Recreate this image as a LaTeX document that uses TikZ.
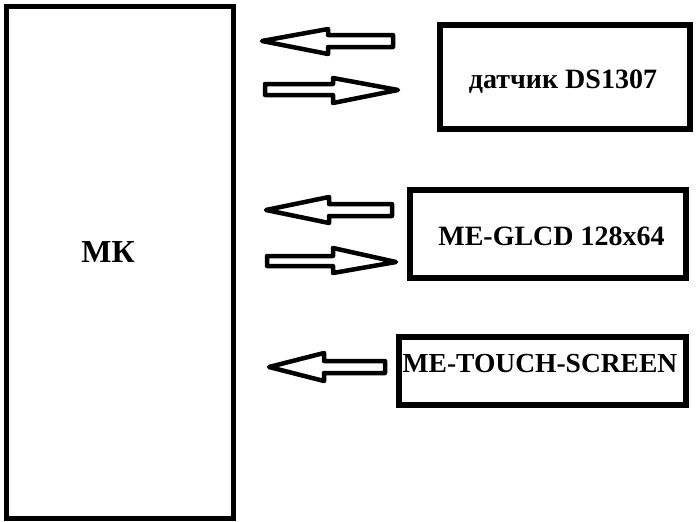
\documentclass[tikz,border=0pt]{standalone}
\usepackage{fontspec}
\setmainfont{Liberation Serif}
\usetikzlibrary{calc}

\tikzset{
  box/.style={draw, line width=6pt, inner sep=0pt},
  lbl/.style={anchor=base, inner sep=0pt, font=\bfseries\fontsize{28}{30}\selectfont},
  blockarrow/.style={draw, line width=4.5pt, line join=round, fill=white}
}

\begin{document}
\begin{tikzpicture}[x=1pt, y=-1pt]
    \useasboundingbox (0,0) rectangle (696,522);
    % blocks
    \node (mk) [box, line width=5pt, minimum width=227pt, minimum height=512pt] at (120,262.5) {};
    \node (rtc) [box, minimum width=250pt, minimum height=103.5pt] at (564.5,76.75) {};
    \node (glcd) [box, minimum width=275.5pt, minimum height=88pt] at (547.75,234) {};
    \node (touch) [box, minimum width=287.5pt, minimum height=68pt] at (542.25,371) {};
    % labels
    \node (mklbl) [lbl, font=\bfseries\fontsize{32}{34}\selectfont] at (108,262) {МК};
    \node (rtclbl) [lbl] at (563,88) {датчик DS1307};
    \node (glcdlbl) [lbl] at (551.5,245) {ME-GLCD 128x64};
    \node (touchlbl) [lbl, font=\bfseries\fontsize{27.5}{30}\selectfont] at (540,372) {ME-TOUCH-SCREEN};
    % arrows
    \draw [blockarrow] (262,41) -- (328,29) -- (328,35) -- (393,35) -- (393,47) -- (328,47) -- (328,54) -- cycle;
    \draw [blockarrow] (265,84) -- (333,84) -- (333,78) -- (398,90) -- (333,103) -- (333,95) -- (265,95) -- cycle;
    \draw [blockarrow] (266,210) -- (329,197) -- (329,204) -- (392,204) -- (392,216) -- (329,216) -- (329,223) -- cycle;
    \draw [blockarrow] (267,256) -- (333,256) -- (333,248) -- (396,262) -- (333,273) -- (333,266) -- (267,266) -- cycle;
    \draw [blockarrow] (269,367) -- (324,353) -- (324,361) -- (385,361) -- (385,373) -- (324,373) -- (324,381) -- cycle;
\end{tikzpicture}
\end{document}
